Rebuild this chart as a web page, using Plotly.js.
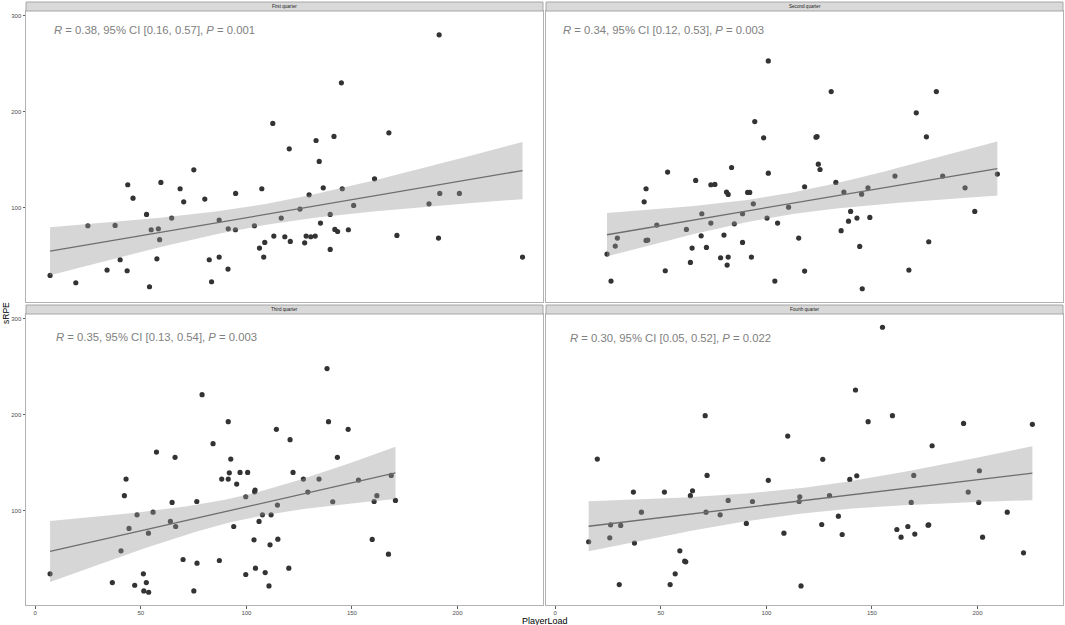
<!DOCTYPE html>
<html>
<head>
<meta charset="utf-8">
<script src="https://cdn.plot.ly/plotly-3.0.1.min.js"></script>
<style>html,body{margin:0;padding:0;background:#fff;}#chart{width:1065px;height:625px;}</style>
</head>
<body>
<div id="chart"></div>
<script>
// ---- data ----
const panelTitles = ["First quarter", "Second quarter", "Third quarter", "Fourth quarter"];
const corLabels = [
  "<i>R</i> = 0.38, 95% CI [0.16, 0.57], <i>P</i> = 0.001",
  "<i>R</i> = 0.34, 95% CI [0.12, 0.53], <i>P</i> = 0.003",
  "<i>R</i> = 0.35, 95% CI [0.13, 0.54], <i>P</i> = 0.003",
  "<i>R</i> = 0.30, 95% CI [0.05, 0.52], <i>P</i> = 0.022"
];
const xTicks = [0, 50, 100, 150, 200];
const yTicks = [100, 200, 300];

const q1_x = [7.0,19.2,24.9,34.0,37.8,40.2,43.5,43.8,46.3,52.7,54.1,54.9,57.6,58.3,58.9,59.5,64.6,68.6,70.3,75.1,80.3,82.4,83.5,87.1,87.1,91.3,91.4,94.8,94.9,103.8,106.2,107.3,108.2,108.7,112.5,113.0,116.5,118.2,
  120.3,120.8,125.4,127.6,128.3,129.7,130.5,132.6,133.0,134.5,135.1,136.4,139.7,139.7,141.5,141.9,143.2,145.0,145.4,148.3,150.8,160.7,167.5,171.3,186.5,191.0,191.3,191.6,200.9,230.8];
const q1_y = [29.0,21.4,80.9,34.6,81.2,45.4,33.9,123.7,109.7,92.7,17.2,76.7,46.4,77.7,66.3,126.1,88.9,119.5,105.9,139.3,108.7,45.4,22.4,48.2,86.8,35.7,77.7,76.7,114.6,80.9,57.6,119.5,48.2,63.5,187.7,70.1,88.9,69.4,
  161.2,64.5,98.3,63.1,70.1,113.2,69.4,70.1,169.9,148.0,83.7,120.5,92.7,56.2,174.1,77.0,74.9,230.1,119.5,76.7,102.1,129.9,177.9,70.8,103.8,68.0,280.2,114.6,114.6,48.2];

const q2_x = [24.5,26.4,28.4,29.4,42.1,43.0,43.0,43.8,48.1,52.1,53.2,62.1,64.0,64.8,66.5,69.1,69.4,71.6,73.7,73.7,75.6,78.3,79.9,81.1,81.9,81.4,81.9,83.5,84.8,88.7,88.7,91.1,92.1,92.9,93.8,94.5,98.7,100.3,100.9,100.9,104.0,105.3,110.5,115.3,118.1,118.1,
  123.5,124.0,124.6,125.4,130.7,132.9,135.4,136.7,138.9,139.9,142.9,144.2,145.1,145.4,148.1,149.0,160.9,167.5,171.0,175.8,176.9,180.5,183.5,194.1,198.7,209.4];
const q2_y = [51.3,23.1,59.7,68.0,105.9,119.5,65.6,65.9,81.6,33.9,136.9,77.0,42.6,57.6,128.2,70.4,93.4,58.3,83.7,123.7,124.0,47.5,71.1,116.0,113.6,39.8,48.2,141.7,82.9,93.4,63.5,115.7,115.7,48.2,103.8,189.7,172.7,88.9,253.0,135.8,23.1,83.7,100.3,68.0,121.6,33.6,
  173.4,174.0,145.2,139.6,221.0,126.1,75.7,116.0,85.7,95.8,88.9,59.3,113.9,15.1,120.5,89.6,132.7,34.6,198.8,173.7,64.2,221.0,132.7,120.5,95.8,134.8];

const q3_x = [7.0,36.5,40.6,42.2,43.0,44.4,47.1,48.2,51.2,51.4,52.6,53.6,53.7,55.8,57.4,64.0,64.8,66.2,66.5,70.0,75.1,76.5,76.6,79.0,
  84.2,87.2,88.3,91.4,91.4,91.9,92.6,94.0,95.4,97.0,99.7,99.7,100.6,103.6,103.9,104.1,104.3,106.0,107.6,108.9,110.7,111.2,111.7,114.2,114.7,114.9,120.1,120.7,122.1,127.0,129.1,134.4,138.2,138.9,140.9,143.1,148.2,153.1,159.6,160.5,161.8,167.3,168.6,170.6];
const q3_y = [34.3,25.2,58.3,115.7,133.0,81.6,22.4,95.8,34.3,16.5,25.2,76.7,15.1,98.6,161.2,88.9,108.7,155.7,83.6,49.2,16.5,109.7,45.4,221.0,
  169.9,48.2,133.0,133.0,192.9,139.6,153.9,83.6,127.8,140.0,114.6,33.6,140.0,69.7,119.8,121.6,40.2,88.9,95.8,35.6,21.7,64.5,95.8,184.9,106.0,70.4,40.2,174.1,140.0,133.0,119.5,133.0,248.2,192.9,109.4,155.7,184.9,132.0,70.1,109.7,115.7,54.8,136.9,110.8];

const q4_x = [15.8,19.9,25.8,26.2,30.3,31.0,37.0,37.5,40.8,51.7,54.4,56.8,59.0,61.3,61.8,64.0,65.0,71.0,71.4,71.9,78.1,81.9,90.5,93.4,100.9,108.3,110.1,
  115.5,115.8,116.4,126.2,126.7,129.9,134.1,135.9,139.5,142.2,142.8,148.2,155.0,159.7,161.8,163.8,167.0,168.6,169.8,170.3,176.6,176.9,178.5,193.4,195.6,200.6,200.9,202.4,214.1,221.8,226.0];
const q4_y = [67.7,153.9,71.8,85.4,23.1,84.7,119.5,66.3,98.6,119.5,23.1,34.3,58.3,47.5,46.8,115.7,120.9,199.1,98.6,136.9,95.8,110.8,86.8,109.7,131.7,76.7,177.9,
  109.7,114.6,21.7,85.7,153.6,115.7,94.4,75.3,132.7,225.9,136.5,192.9,291.3,199.1,80.5,72.5,83.6,108.7,136.9,75.7,85.0,85.4,167.8,191.1,119.5,108.7,141.7,72.5,98.6,56.2,190.1];

const seriesX = [q1_x, q2_x, q3_x, q4_x];
const seriesY = [q1_y, q2_y, q3_y, q4_y];

// ---- linear fit with 95% confidence band (as geom_smooth(method = "lm")) ----
function lmBand(xs, ys) {
  const n = xs.length;
  const mx = xs.reduce((a, b) => a + b, 0) / n;
  const my = ys.reduce((a, b) => a + b, 0) / n;
  let sxx = 0, sxy = 0;
  for (let i = 0; i < n; i++) { sxx += (xs[i] - mx) ** 2; sxy += (xs[i] - mx) * (ys[i] - my); }
  const b = sxy / sxx, a = my - b * mx;
  let sse = 0;
  for (let i = 0; i < n; i++) sse += (ys[i] - a - b * xs[i]) ** 2;
  const s = Math.sqrt(sse / (n - 2));
  const df = n - 2, z = 1.959964;
  const t = z + (z ** 3 + z) / (4 * df) + (5 * z ** 5 + 16 * z ** 3 + 3 * z) / (96 * df * df);
  const xmin = Math.min(...xs), xmax = Math.max(...xs);
  const gx = [], fit = [], lo = [], hi = [];
  const m = 80;
  for (let k = 0; k < m; k++) {
    const x = xmin + (xmax - xmin) * k / (m - 1);
    const yhat = a + b * x;
    const se = s * Math.sqrt(1 / n + (x - mx) ** 2 / sxx);
    gx.push(x); fit.push(yhat); lo.push(yhat - t * se); hi.push(yhat + t * se);
  }
  return { gx, fit, lo, hi };
}

const axisIds = [["x", "y"], ["x2", "y2"], ["x3", "y3"], ["x4", "y4"]];
const traces = [];
for (let p = 0; p < 4; p++) {
  const [xa, ya] = axisIds[p];
  traces.push({
    type: "scatter", mode: "markers", x: seriesX[p], y: seriesY[p], xaxis: xa, yaxis: ya,
    marker: { color: "#333333", size: 5.2, line: { width: 0 } }, hoverinfo: "skip", showlegend: false
  });
  const band = lmBand(seriesX[p], seriesY[p]);
  traces.push({
    type: "scatter", mode: "lines", x: band.gx, y: band.lo, xaxis: xa, yaxis: ya,
    line: { width: 0, color: "rgba(0,0,0,0)" }, hoverinfo: "skip", showlegend: false
  });
  traces.push({
    type: "scatter", mode: "lines", x: band.gx, y: band.hi, xaxis: xa, yaxis: ya,
    fill: "tonexty", fillcolor: "rgba(153,153,153,0.4)",
    line: { width: 0, color: "rgba(0,0,0,0)" }, hoverinfo: "skip", showlegend: false
  });
  traces.push({
    type: "scatter", mode: "lines", x: band.gx, y: band.fit, xaxis: xa, yaxis: ya,
    line: { width: 1.3, color: "#6E6E6E" }, hoverinfo: "skip", showlegend: false
  });
}

// ---- layout ----
const W = 1065, H = 625, ML = 26, MR = 2, MT = 11, MB = 20;
const PW = W - ML - MR, PH = H - MT - MB;
const px2fx = px => (px - ML) / PW;
const px2fy = py => (H - MB - py) / PH;

const xRange = [-4.4, 240.5];
const yRange = [1.8, 305.1];
const tickFont = { family: "Liberation Sans, Arial, sans-serif", size: 6, color: "#4D4D4D" };

function xAxis(domain, anchor, labels) {
  return {
    domain, anchor, range: xRange, tickvals: xTicks, showgrid: false, zeroline: false,
    showline: true, mirror: true, linecolor: "#B3B3B3", linewidth: 1,
    ticks: labels ? "outside" : "", ticklen: 2.5, tickwidth: 0.8, tickcolor: "#333333",
    ticklabelstandoff: -1,
    showticklabels: labels, tickfont: tickFont, fixedrange: true
  };
}
function yAxis(domain, anchor, labels) {
  return {
    domain, anchor, range: yRange, tickvals: yTicks, showgrid: false, zeroline: false,
    showline: true, mirror: true, linecolor: "#B3B3B3", linewidth: 1,
    ticks: labels ? "outside" : "", ticklen: 2.5, tickwidth: 0.8, tickcolor: "#333333",
    showticklabels: labels, tickfont: tickFont, fixedrange: true
  };
}

const dxL = [px2fx(26), px2fx(543)], dxR = [px2fx(546), px2fx(1063)];
const dyT = [px2fy(301.5), 1], dyB = [0, px2fy(314)];

const layout = {
  width: W, height: H,
  margin: { l: ML, r: MR, t: MT, b: MB, pad: 0 },
  paper_bgcolor: "#ffffff", plot_bgcolor: "#ffffff",
  showlegend: false,
  font: { family: "Liberation Sans, Arial, sans-serif" },
  xaxis: xAxis(dxL, "y", false), yaxis: yAxis(dyT, "x", true),
  xaxis2: xAxis(dxR, "y2", false), yaxis2: yAxis(dyT, "x2", false),
  xaxis3: xAxis(dxL, "y3", true), yaxis3: yAxis(dyB, "x3", true),
  xaxis4: xAxis(dxR, "y4", true), yaxis4: yAxis(dyB, "x4", false),
  shapes: [], annotations: []
};

// strips
const strips = [
  { x0: 26, x1: 543, y0: 2, y1: 11 },
  { x0: 546, x1: 1063, y0: 2, y1: 11 },
  { x0: 26, x1: 543, y0: 305, y1: 314 },
  { x0: 546, x1: 1063, y0: 305, y1: 314 }
];
strips.forEach((s, i) => {
  layout.shapes.push({
    type: "rect", xref: "paper", yref: "paper",
    x0: px2fx(s.x0), x1: px2fx(s.x1), y0: px2fy(s.y1), y1: px2fy(s.y0),
    fillcolor: "#D9D9D9", line: { color: "#A6A6A6", width: 1 }, layer: "above"
  });
  layout.annotations.push({
    xref: "paper", yref: "paper", x: px2fx((s.x0 + s.x1) / 2), y: px2fy((s.y0 + s.y1) / 2),
    xanchor: "center", yanchor: "middle", showarrow: false, text: panelTitles[i],
    font: { size: 4.6, color: "#1A1A1A" }
  });
});

// correlation labels
const labelPos = [[8.2, 285.2], [3.1, 285.2], [9.3, 281.6], [6.6, 280.0]];
for (let p = 0; p < 4; p++) {
  layout.annotations.push({
    xref: axisIds[p][0], yref: axisIds[p][1], x: labelPos[p][0], y: labelPos[p][1],
    xanchor: "left", yanchor: "middle", showarrow: false, text: corLabels[p],
    font: { size: 11.3, color: "#808080" }, borderpad: 0
  });
}

// axis titles
layout.annotations.push({
  xref: "paper", yref: "paper", x: px2fx(6), y: px2fy(313), xanchor: "center", yanchor: "middle",
  showarrow: false, text: "sRPE", textangle: -90, font: { size: 8.5, color: "#000000" }
});
layout.annotations.push({
  xref: "paper", yref: "paper", x: px2fx(545), y: px2fy(621), xanchor: "center", yanchor: "middle",
  showarrow: false, text: "PlayerLoad", font: { size: 9, color: "#000000" }, borderpad: 0
});

Plotly.newPlot("chart", traces, layout, { displayModeBar: false, staticPlot: true });
</script>
</body>
</html>
